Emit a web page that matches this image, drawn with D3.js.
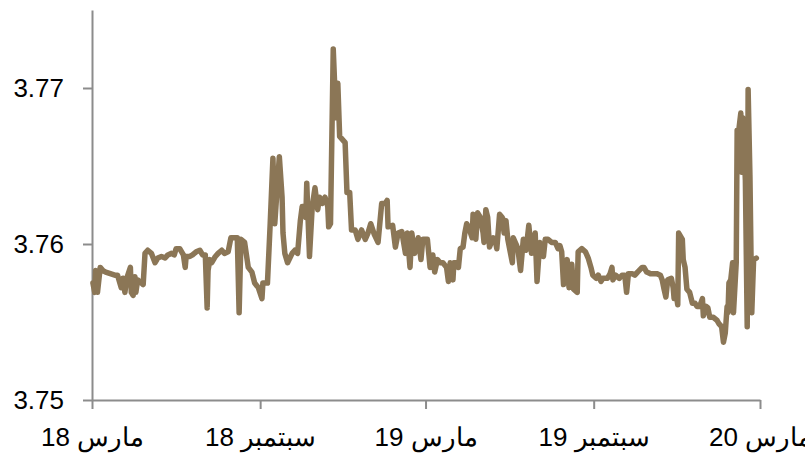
<!DOCTYPE html>
<html>
<head>
<meta charset="utf-8">
<script src="https://cdn.jsdelivr.net/npm/d3@7"></script>
<style>
  html, body { margin: 0; padding: 0; background: #fff; }
  svg { display: block; font-family: "Liberation Sans", Arial, sans-serif; }
</style>
</head>
<body>
<svg id="chart" width="805" height="453"></svg>
<script>
// Daily exchange-rate observations (SAR per USD), March 2018 – February 2020
const dates = [
  "2018-03-02","2018-03-04","2018-03-05","2018-03-07","2018-03-10","2018-03-13","2018-03-16","2018-03-21","2018-03-26","2018-03-29",
  "2018-03-31","2018-04-02","2018-04-04","2018-04-06","2018-04-08","2018-04-12","2018-04-13","2018-04-15","2018-04-17","2018-04-18",
  "2018-04-20","2018-04-24","2018-04-26","2018-04-28","2018-05-01","2018-05-05","2018-05-09","2018-05-12","2018-05-16","2018-05-20",
  "2018-05-23","2018-05-27","2018-05-30","2018-06-01","2018-06-05","2018-06-09","2018-06-11","2018-06-12","2018-06-16","2018-06-19",
  "2018-06-23","2018-06-27","2018-06-30","2018-07-03","2018-07-05","2018-07-06","2018-07-08","2018-07-10","2018-07-14","2018-07-17",
  "2018-07-21","2018-07-24","2018-07-28","2018-07-31","2018-08-02","2018-08-07","2018-08-09","2018-08-11","2018-08-15","2018-08-19",
  "2018-08-23","2018-08-26","2018-08-30","2018-09-03","2018-09-04","2018-09-09","2018-09-12","2018-09-15","2018-09-17","2018-09-22",
  "2018-09-25","2018-09-26","2018-09-28","2018-10-01","2018-10-06","2018-10-09","2018-10-12","2018-10-15","2018-10-17","2018-10-18",
  "2018-10-21","2018-10-22","2018-10-25","2018-10-28","2018-10-31","2018-11-03","2018-11-05","2018-11-08","2018-11-11","2018-11-14",
  "2018-11-15","2018-11-17","2018-11-20","2018-11-23","2018-11-25","2018-11-27","2018-12-03","2018-12-05","2018-12-08","2018-12-10",
  "2018-12-14","2018-12-17","2018-12-21","2018-12-25","2018-12-28","2018-12-31","2019-01-04","2019-01-08","2019-01-12","2019-01-16",
  "2019-01-18","2019-01-19","2019-01-24","2019-01-27","2019-01-30","2019-02-03","2019-02-07","2019-02-09","2019-02-12","2019-02-14",
  "2019-02-17","2019-02-21","2019-02-24","2019-02-26","2019-03-03","2019-03-06","2019-03-09","2019-03-11","2019-03-14","2019-03-17",
  "2019-03-20","2019-03-24","2019-03-26","2019-03-28","2019-03-31","2019-04-01","2019-04-04","2019-04-06","2019-04-08","2019-04-11",
  "2019-04-13","2019-04-15","2019-04-17","2019-04-21","2019-04-22","2019-04-25","2019-04-27","2019-04-30","2019-05-03","2019-05-04",
  "2019-05-06","2019-05-08","2019-05-10","2019-05-14","2019-05-16","2019-05-18","2019-05-21","2019-05-24","2019-05-26","2019-05-28",
  "2019-05-30","2019-06-04","2019-06-05","2019-06-08","2019-06-10","2019-06-13","2019-06-16","2019-06-19","2019-06-22","2019-06-25",
  "2019-06-29","2019-07-01","2019-07-04","2019-07-08","2019-07-10","2019-07-13","2019-07-17","2019-07-21","2019-07-24","2019-07-26",
  "2019-07-28","2019-07-30","2019-08-03","2019-08-05","2019-08-08","2019-08-10","2019-08-14","2019-08-15","2019-08-19","2019-08-23",
  "2019-08-26","2019-08-29","2019-08-31","2019-09-04","2019-09-06","2019-09-09","2019-09-11","2019-09-16","2019-09-19","2019-09-21",
  "2019-09-22","2019-09-25","2019-09-29","2019-10-02","2019-10-05","2019-10-07","2019-10-09","2019-10-13","2019-10-16","2019-10-19",
  "2019-10-24","2019-10-26","2019-10-29","2019-11-02","2019-11-05","2019-11-09","2019-11-13","2019-11-15","2019-11-17","2019-11-19",
  "2019-11-21","2019-11-25","2019-11-27","2019-11-28","2019-11-30","2019-12-02","2019-12-03","2019-12-07","2019-12-08","2019-12-10",
  "2019-12-12","2019-12-15","2019-12-18","2019-12-21","2019-12-23","2019-12-26","2019-12-29","2019-12-30","2020-01-02","2020-01-04",
  "2020-01-06","2020-01-10","2020-01-14","2020-01-16","2020-01-19","2020-01-21","2020-01-23","2020-01-25","2020-01-26","2020-01-27",
  "2020-01-29","2020-01-31","2020-02-01","2020-02-04","2020-02-05","2020-02-07","2020-02-09","2020-02-10","2020-02-11","2020-02-14",
  "2020-02-16","2020-02-17","2020-02-19","2020-02-21","2020-02-23","2020-02-26"
];

const values = [
  3.7575,3.7569,3.7583,3.7569,3.7585,3.7583,3.7582,3.7581,3.7580,3.7580,
  3.7576,3.7572,3.7578,3.7569,3.7578,3.7585,3.7569,3.7567,3.7579,3.7569,
  3.7577,3.7575,3.7574,3.7594,3.7596,3.7594,3.7588,3.7591,3.7592,3.7591,
  3.7593,3.7594,3.7593,3.7597,3.7597,3.7593,3.7585,3.7592,3.7592,3.7593,
  3.7595,3.7596,3.7593,3.7593,3.7559,3.7583,3.7590,3.7588,3.7592,3.7594,
  3.7596,3.7594,3.7595,3.7604,3.7604,3.7604,3.7556,3.7603,3.7601,3.7585,
  3.7582,3.7575,3.7572,3.7565,3.7575,3.7575,3.7613,3.7655,3.7613,3.7656,
  3.7630,3.7607,3.7594,3.7588,3.7594,3.7596,3.7594,3.7615,3.7624,3.7624,
  3.7617,3.7639,3.7592,3.7624,3.7636,3.7622,3.7630,3.7626,3.7630,3.7624,
  3.7611,3.7613,3.7725,3.7681,3.7703,3.7669,3.7665,3.7633,3.7633,3.7609,
  3.7609,3.7603,3.7609,3.7603,3.7607,3.7613,3.7606,3.7601,3.7626,3.7626,
  3.7628,3.7611,3.7612,3.7598,3.7607,3.7608,3.7594,3.7607,3.7585,3.7607,
  3.7594,3.7604,3.7590,3.7603,3.7603,3.7585,3.7593,3.7582,3.7590,3.7588,
  3.7588,3.7585,3.7576,3.7588,3.7577,3.7588,3.7588,3.7585,3.7597,3.7598,
  3.7607,3.7613,3.7611,3.7604,3.7619,3.7603,3.7620,3.7617,3.7607,3.7601,
  3.7622,3.7617,3.7598,3.7604,3.7603,3.7597,3.7619,3.7617,3.7607,3.7615,
  3.7603,3.7588,3.7604,3.7600,3.7597,3.7583,3.7603,3.7596,3.7612,3.7594,
  3.7607,3.7576,3.7601,3.7592,3.7603,3.7603,3.7601,3.7601,3.7597,3.7599,
  3.7595,3.7574,3.7590,3.7572,3.7587,3.7571,3.7569,3.7595,3.7597,3.7595,
  3.7591,3.7585,3.7580,3.7578,3.7580,3.7576,3.7578,3.7578,3.7581,3.7585,
  3.7577,3.7580,3.7578,3.7580,3.7580,3.7569,3.7581,3.7581,3.7580,3.7582,
  3.7585,3.7585,3.7582,3.7581,3.7581,3.7581,3.7580,3.7577,3.7571,3.7566,
  3.7577,3.7578,3.7572,3.7565,3.7569,3.7561,3.7607,3.7603,3.7590,3.7585,
  3.7571,3.7569,3.7562,3.7562,3.7560,3.7560,3.7565,3.7554,3.7560,3.7559,
  3.7553,3.7553,3.7551,3.7549,3.7547,3.7537,3.7543,3.7560,3.7556,3.7575,
  3.7577,3.7588,3.7556,3.7588,3.7673,3.7674,3.7684,3.7646,3.7681,3.7641,
  3.7547,3.7699,3.7643,3.7556,3.7590,3.7591
];

// Axis ticks
const xTickDates = ["2018-03-01", "2018-09-01", "2019-03-01", "2019-09-01", "2020-03-01"];
const xTickLabels = ["مارس 18", "سبتمبر 18", "مارس 19", "سبتمبر 19", "مارس 20"];
const yTicks = [3.75, 3.76, 3.77];

const parse = d3.timeParse("%Y-%m-%d");
const series = dates.map((d, i) => ({ date: parse(d), value: values[i] }));

const svg = d3.select("#chart");
const axisColor = "#8c8c8c";
const lineColor = "#8b7656";

const x = d3.scaleTime()
  .domain([parse("2018-03-01"), parse("2020-03-01")])
  .range([92, 760]);

const y = d3.scaleLinear()
  .domain([3.75, 3.775])
  .range([400, 10]);

// Y axis
const yAxis = svg.append("g")
  .attr("transform", "translate(92,0)")
  .call(d3.axisLeft(y)
    .tickValues(yTicks)
    .tickFormat(d3.format(".2f"))
    .tickSize(9)
    .tickSizeOuter(0)
    .tickPadding(19));

// X axis
const xAxis = svg.append("g")
  .attr("transform", "translate(0,400)")
  .call(d3.axisBottom(x)
    .tickValues(xTickDates.map(parse))
    .tickFormat((d, i) => xTickLabels[i])
    .tickSize(9)
    .tickSizeOuter(0)
    .tickPadding(19));

[yAxis, xAxis].forEach(g => {
  g.select(".domain").attr("stroke", axisColor).attr("stroke-width", 2);
  g.selectAll(".tick line").attr("stroke", axisColor).attr("stroke-width", 2);
  g.selectAll(".tick text")
    .attr("fill", "#000")
    .style("font-family", "'Liberation Sans', Arial, sans-serif")
    .style("font-size", "26px");
});

xAxis.selectAll(".tick text").attr("direction", "rtl");

// Price line
const line = d3.line()
  .x(d => x(d.date))
  .y(d => y(d.value));

svg.append("path")
  .datum(series)
  .attr("fill", "none")
  .attr("stroke", lineColor)
  .attr("stroke-width", 5.5)
  .attr("stroke-linejoin", "round")
  .attr("stroke-linecap", "round")
  .attr("d", line);
</script>
</body>
</html>
